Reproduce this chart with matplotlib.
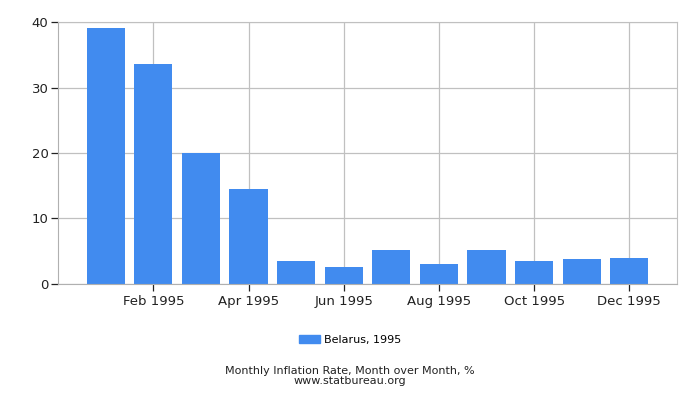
import numpy as np
import matplotlib.pyplot as plt
from matplotlib.patches import Patch

months = ["Jan 1995", "Feb 1995", "Mar 1995", "Apr 1995", "May 1995", "Jun 1995",
          "Jul 1995", "Aug 1995", "Sep 1995", "Oct 1995", "Nov 1995", "Dec 1995"]
inflation = [39.2, 33.6, 20.0, 14.5, 3.4, 2.5, 5.2, 3.0, 5.2, 3.4, 3.7, 3.9]
yticks = [0, 10, 20, 30, 40]

bar_color = "#418bef"
grid_color = "#c0c0c0"

fig = plt.figure(figsize=(7, 4), dpi=100)
ax = fig.add_axes([0.083, 0.291, 0.884, 0.653])

x = np.arange(1, len(months) + 1)
ax.bar(x, inflation, width=0.8, color=bar_color, zorder=2)

ax.set_xlim(0, 13)
ax.set_ylim(0, 40)
ax.set_yticks(yticks)
ax.set_xticks(x[1::2])
ax.set_xticklabels(months[1::2])

ax.grid(True, color=grid_color, linewidth=0.9, zorder=0)
for s in ["left", "bottom"]:
    ax.spines[s].set_color("#b0b0b0")
for s in ["top", "right"]:
    ax.spines[s].set_color(grid_color)
ax.tick_params(axis="both", labelsize=9.5, colors="#222222", length=5, width=0.9,
               labelcolor="#222222")
ax.tick_params(axis="y", pad=2)

fig.legend(handles=[Patch(color=bar_color, label="Belarus, 1995")],
           loc="center", bbox_to_anchor=(0.5, 0.15), frameon=False,
           fontsize=8, handlelength=1.9, handleheight=0.8, handletextpad=0.4)

fig.text(0.5, 0.072, "Monthly Inflation Rate, Month over Month, %", ha="center",
         va="center", fontsize=8, color="#222222")
fig.text(0.5, 0.047, "www.statbureau.org", ha="center", va="center",
         fontsize=8, color="#222222")

fig.savefig("out.png", dpi=100)
